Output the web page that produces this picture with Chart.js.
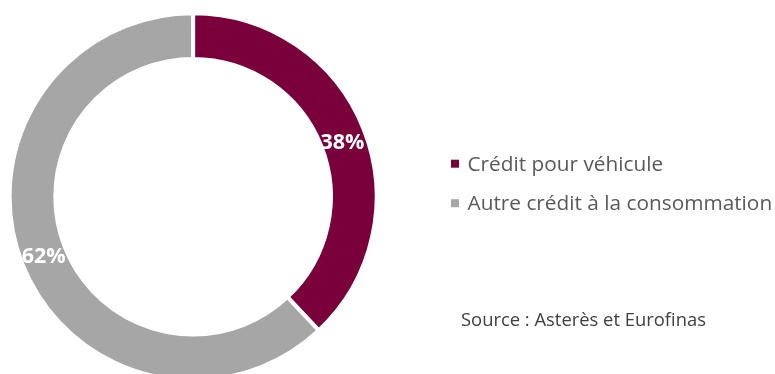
<!DOCTYPE html>
<html>
<head>
<meta charset="utf-8">
<script src="https://cdn.jsdelivr.net/npm/chart.js@4/dist/chart.umd.min.js"></script>
<style>
  html, body { margin: 0; padding: 0; background: #fff; overflow: hidden; }
  #wrap { width: 775px; height: 374px; overflow: hidden; position: relative; }
  canvas { display: block; }
</style>
</head>
<body>
<div id="wrap"><canvas id="c" width="775" height="400"></canvas></div>
<script>
// Shares of consumer credit (percent)
const categories = ['Crédit pour véhicule', 'Autre crédit à la consommation'];
const shares = [38, 62];
const colors = ['#7A003C', '#A6A6A6'];
const sourceNote = 'Source : Asterès et Eurofinas';

const FONT = '"Open Sans", "Noto Sans", sans-serif';

// Percent labels inside each ring segment
const sliceLabels = {
  id: 'sliceLabels',
  afterDatasetsDraw(chart, args, opts) {
    const ctx = chart.ctx;
    const meta = chart.getDatasetMeta(0);
    const nudge = opts.nudgeY || [];
    ctx.save();
    ctx.fillStyle = '#ffffff';
    ctx.font = 'bold 21.5px ' + FONT;
    ctx.textAlign = 'center';
    ctx.textBaseline = 'middle';
    meta.data.forEach((arc, i) => {
      const p = arc.getCenterPoint();
      ctx.fillText(chart.data.datasets[0].data[i] + '%', p.x, p.y + 1 + (nudge[i] || 0));
    });
    ctx.restore();
  }
};

// Legend with square markers and the source line on the right
const sideLegend = {
  id: 'sideLegend',
  afterDraw(chart) {
    const ctx = chart.ctx;
    const ds = chart.data.datasets[0];
    ctx.save();
    ctx.textAlign = 'left';
    ctx.textBaseline = 'alphabetic';
    chart.data.labels.forEach((label, i) => {
      const base = 170.7 + i * 39.5;
      ctx.fillStyle = ds.backgroundColor[i];
      ctx.fillRect(451, base - 11, 8, 8);
      ctx.fillStyle = '#595959';
      ctx.font = '20.8px ' + FONT;
      ctx.fillText(label, 467.5, base);
    });
    ctx.fillStyle = '#404040';
    ctx.font = '18.4px ' + FONT;
    ctx.fillText(sourceNote, 461, 325.7);
    ctx.restore();
  }
};

new Chart(document.getElementById('c'), {
  type: 'doughnut',
  data: {
    labels: categories,
    datasets: [{
      data: shares,
      backgroundColor: colors,
      borderColor: '#ffffff',
      borderWidth: 4,
      hoverOffset: 0
    }]
  },
  options: {
    responsive: false,
    devicePixelRatio: 1,
    animation: false,
    cutout: '75.1%',
    layout: { padding: { left: 7.6, top: 11, right: 396.4, bottom: 17.6 } },
    plugins: {
      legend: { display: false },
      tooltip: { enabled: false },
      sliceLabels: { nudgeY: [4, 0] }
    }
  },
  plugins: [sliceLabels, sideLegend]
});
</script>
</body>
</html>
